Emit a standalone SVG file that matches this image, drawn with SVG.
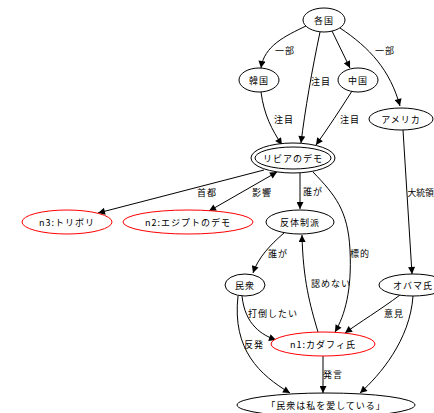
<svg xmlns="http://www.w3.org/2000/svg" width="434" height="413" viewBox="0 0 434 413">
<style>
.n{fill:#fff;stroke:#000;stroke-width:1}
.r{fill:#fff;stroke:#f00;stroke-width:1}
.e{fill:none;stroke:#000;stroke-width:1}
text{font-family:"Noto Sans CJK JP","Noto Sans",sans-serif;font-size:9px;letter-spacing:1px;fill:#000;text-anchor:middle;dominant-baseline:central}
</style>
<defs>
<marker id="a" viewBox="0 0 10 10" refX="10" refY="5" markerWidth="8" markerHeight="7" markerUnits="userSpaceOnUse" orient="auto-start-reverse"><path d="M0,0L10,5L0,10z" fill="#000"/></marker>
</defs>
<rect width="434" height="413" fill="#fff"/>
<g id="edges">
<path class="e" d="M306,26 C285,36 264,46 261,68" marker-end="url(#a)"/>
<text x="285" y="50">一部</text>
<path class="e" d="M320,32 C312,70 305,110 301,143" marker-end="url(#a)"/>
<text x="321" y="81">注目</text>
<path class="e" d="M332,31 L350,68" marker-end="url(#a)"/>
<path class="e" d="M340,28 C370,48 390,70 400,106" marker-end="url(#a)"/>
<text x="385" y="50">一部</text>
<path class="e" d="M261,92 C264,115 272,130 282,145" marker-end="url(#a)"/>
<text x="284" y="119">注目</text>
<path class="e" d="M352,91 C340,110 328,128 316,145" marker-end="url(#a)"/>
<text x="350" y="119">注目</text>
<path class="e" d="M403,130 L412,274" marker-end="url(#a)"/>
<text x="407.5" y="192" style="text-anchor:start;letter-spacing:0;font-size:8.8px">大統領</text>
<path class="e" d="M264,170 L98,213" marker-end="url(#a)"/>
<text x="207" y="192">首都</text>
<path class="e" d="M277,172 L209,211" marker-start="url(#a)" marker-end="url(#a)"/>
<text x="262" y="192">影響</text>
<path class="e" d="M300,173 L300,209" marker-end="url(#a)"/>
<text x="313" y="191">誰が</text>
<path class="e" d="M313,172 C335,195 348,210 350,250 C352,290 345,315 335,332" marker-end="url(#a)"/>
<text x="360" y="253">標的</text>
<path class="e" d="M284,233 C270,245 258,258 253,273" marker-end="url(#a)"/>
<text x="278" y="253">誰が</text>
<path class="e" d="M318,332 C310,305 303,280 302,235" marker-end="url(#a)"/>
<text x="331" y="283">認めない</text>
<path class="e" d="M242,296 C245,325 262,335 276,340" marker-end="url(#a)"/>
<text x="273" y="313">打倒したい</text>
<path class="e" d="M238,296 C232,350 260,375 290,393" marker-end="url(#a)"/>
<text x="254" y="344">反発</text>
<path class="e" d="M323,356 L323,393" marker-end="url(#a)"/>
<text x="333" y="374">発言</text>
<path class="e" d="M400,295 C380,310 360,322 345,333" marker-end="url(#a)"/>
<text x="394" y="313">意見</text>
<path class="e" d="M413,296 C410,340 380,375 360,393" marker-end="url(#a)"/>
</g>
<g id="n_kakkoku"><ellipse class="n" cx="324" cy="20" rx="21" ry="12"/><text x="324" y="20">各国</text></g>
<g id="n_kankoku"><ellipse class="n" cx="259" cy="80" rx="20" ry="12"/><text x="259" y="80">韓国</text></g>
<g id="n_chugoku"><ellipse class="n" cx="358" cy="80" rx="20" ry="12"/><text x="358" y="80">中国</text></g>
<g id="n_america"><ellipse class="n" cx="401" cy="119" rx="32" ry="11"/><text x="401" y="119">アメリカ</text></g>
<g id="n_libya"><ellipse class="n" cx="293" cy="158" rx="42" ry="15"/><ellipse class="n" cx="293" cy="158" rx="38" ry="11"/><text x="293" y="158">リビアのデモ</text></g>
<g id="n3"><ellipse class="r" cx="67" cy="222" rx="45" ry="12"/><text x="67" y="222">n3:トリボリ</text></g>
<g id="n2"><ellipse class="r" cx="188" cy="222" rx="65" ry="12"/><text x="188" y="222">n2:エジプトのデモ</text></g>
<g id="n_hantai"><ellipse class="n" cx="300" cy="222" rx="34" ry="12"/><text x="300" y="222">反体制派</text></g>
<g id="n_minshu"><ellipse class="n" cx="245" cy="285" rx="20" ry="11"/><text x="245" y="285">民衆</text></g>
<g id="n_obama"><ellipse class="n" cx="413" cy="285" rx="34" ry="11"/><text x="413" y="285">オバマ氏</text></g>
<g id="n1"><ellipse class="r" cx="323" cy="344" rx="52" ry="12"/><text x="323" y="344">n1:カダフィ氏</text></g>
<g id="n_quote"><ellipse class="n" cx="326" cy="405" rx="89" ry="12"/><text x="326" y="405">「民衆は私を愛している」</text></g>
</svg>
